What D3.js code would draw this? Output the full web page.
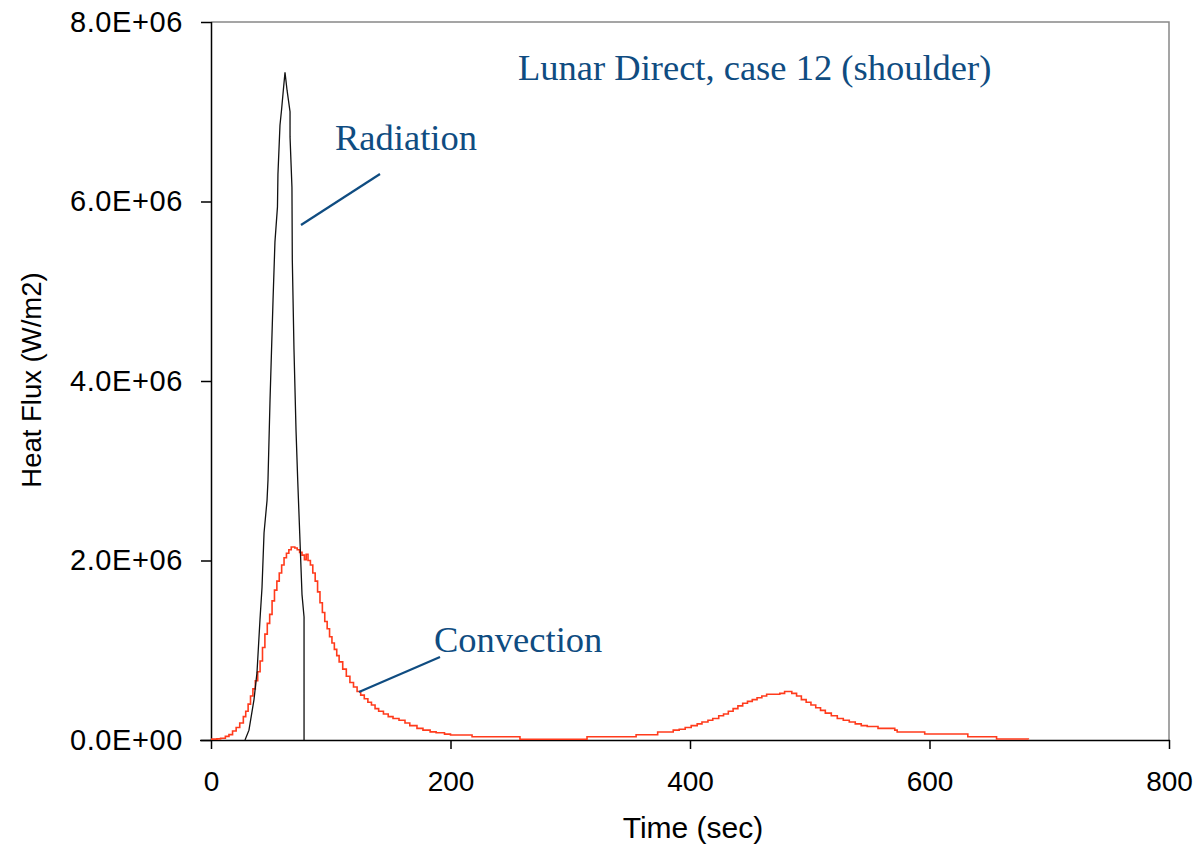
<!DOCTYPE html>
<html>
<head>
<meta charset="utf-8">
<script src="https://cdnjs.cloudflare.com/ajax/libs/d3/7.8.5/d3.min.js"></script>
<style>
  html, body { margin: 0; padding: 0; background: #fff; }
  svg { display: block; }
  .axis text { font-family: "Liberation Sans", Arial, sans-serif; fill: #000; }
</style>
</head>
<body>
<svg id="chart" width="1199" height="846"></svg>
<script>
// Time axis ticks (sec) and heat-flux ticks (W/m2)
const xTicks = [0, 200, 400, 600, 800];
const yTicks = [0, 2e6, 4e6, 6e6, 8e6];

// Radiative heat flux history
const radTime = [28.4, 31.7, 35.9, 38.4, 40.9, 42.6, 44.3, 46.8, 47.6, 49.3, 51.8, 53.4, 55.5, 55.9,
  57.6, 58.9, 60.4, 61.8, 63.5, 66.0, 66.0, 67.6, 67.9, 69.3, 71.0, 72.4, 76.0, 77.7, 77.7];
const radFlux = [0, 0.11e6, 0.45e6, 0.75e6, 1.34e6, 1.70e6, 2.31e6, 2.67e6, 2.90e6, 3.79e6, 4.90e6, 5.55e6, 5.94e6, 6.30e6,
  6.85e6, 7.02e6, 7.24e6, 7.44e6, 7.24e6, 7.00e6, 6.72e6, 6.16e6, 5.35e6, 4.35e6, 3.45e6, 2.90e6, 1.62e6, 1.37e6, 0];

// Convective heat flux history (piecewise-constant samples)
const convTime = [0, 5, 8, 12, 15, 18, 21, 24, 27, 29, 31, 33, 35, 37, 39, 41, 43, 45, 47, 49, 51, 53, 55, 57, 59, 61, 63, 65,
  67, 70, 72, 74, 76, 78, 79.5, 81, 83, 85, 87, 89, 91, 93, 95, 97, 99, 101, 103, 105, 107, 110, 113, 116, 119, 122, 125,
  128, 131, 134, 137, 140, 144, 148, 152, 157, 162, 166, 172, 177, 183, 188, 195, 200, 218, 258, 314, 355, 373, 386, 391,
  396, 401, 406, 410, 415, 419, 424, 428, 432, 436, 440, 444, 448, 452, 456, 460, 464, 475, 479, 485, 489, 493, 497, 501,
  505, 509, 513, 518, 523, 528, 533, 538, 543, 548, 557, 571, 573, 596, 632, 656, 682.5];
const convFlux = [0.01e6, 0.012e6, 0.02e6, 0.04e6, 0.06e6, 0.10e6, 0.14e6, 0.19e6, 0.26e6, 0.32e6, 0.40e6, 0.49e6, 0.57e6,
  0.66e6, 0.76e6, 0.88e6, 1.03e6, 1.18e6, 1.30e6, 1.40e6, 1.55e6, 1.67e6, 1.77e6, 1.86e6, 1.95e6, 2.03e6, 2.08e6, 2.12e6,
  2.15e6, 2.14e6, 2.12e6, 2.09e6, 2.06e6, 2.01e6, 2.07e6, 2.00e6, 1.95e6, 1.86e6, 1.77e6, 1.65e6, 1.53e6, 1.42e6, 1.32e6,
  1.24e6, 1.15e6, 1.08e6, 1.01e6, 0.94e6, 0.87e6, 0.79e6, 0.71e6, 0.64e6, 0.59e6, 0.54e6, 0.50e6, 0.46e6, 0.42e6, 0.39e6,
  0.35e6, 0.32e6, 0.29e6, 0.26e6, 0.24e6, 0.22e6, 0.19e6, 0.16e6, 0.13e6, 0.11e6, 0.09e6, 0.08e6, 0.065e6, 0.056e6, 0.037e6,
  0.008e6, 0.037e6, 0.059e6, 0.089e6, 0.11e6, 0.12e6, 0.14e6, 0.16e6, 0.18e6, 0.20e6, 0.22e6, 0.24e6, 0.27e6, 0.29e6, 0.32e6,
  0.35e6, 0.38e6, 0.41e6, 0.43e6, 0.45e6, 0.47e6, 0.49e6, 0.51e6, 0.52e6, 0.54e6, 0.52e6, 0.49e6, 0.45e6, 0.42e6, 0.39e6,
  0.36e6, 0.33e6, 0.30e6, 0.27e6, 0.24e6, 0.22e6, 0.20e6, 0.18e6, 0.16e6, 0.15e6, 0.13e6, 0.11e6, 0.089e6, 0.067e6, 0.037e6,
  0.011e6, 0.006e6];

const title = "Lunar Direct, case 12 (shoulder)";
const xLabel = "Time (sec)";
const yLabel = "Heat Flux (W/m2)";

const svg = d3.select("#chart");
const plotLeft = 211, plotRight = 1169, plotTop = 22, plotBottom = 740;

const x = d3.scaleLinear().domain([0, 800]).range([plotLeft, plotRight]);
const y = d3.scaleLinear().domain([0, 8e6]).range([plotBottom, plotTop]);

// Plot frame: grey top and right edges
svg.append("path")
  .attr("d", `M${plotLeft},${plotTop}H${plotRight}V${plotBottom}`)
  .attr("fill", "none").attr("stroke", "#888").attr("stroke-width", 1.5);

const sci = d => {
  const [m, e] = d.toExponential(1).split("e");
  const sign = e[0] === "-" ? "-" : "+";
  const ex = e.replace(/[+-]/, "").padStart(2, "0");
  return `${m}E${sign}${ex}`;
};

const yAxis = svg.append("g").attr("class", "axis")
  .attr("transform", `translate(${plotLeft},0)`)
  .call(d3.axisLeft(y).tickValues(yTicks).tickFormat(sci).tickSize(10).tickPadding(18));
yAxis.select(".domain").attr("stroke", "#000").attr("stroke-width", 1.5).attr("d", `M0.5,${plotTop}V${plotBottom}`);
yAxis.selectAll(".tick line").attr("stroke", "#000").attr("stroke-width", 1.5);
yAxis.selectAll("text").style("font-size", "29px").style("letter-spacing", "0.6px");

const xAxis = svg.append("g").attr("class", "axis")
  .attr("transform", `translate(0,${plotBottom})`)
  .call(d3.axisBottom(x).tickValues(xTicks).tickFormat(d3.format("d")).tickSize(9).tickPadding(22));
xAxis.select(".domain").attr("stroke", "#000").attr("stroke-width", 1.5).attr("d", `M${plotLeft - 11},0.5H${plotRight + 1}`);
xAxis.selectAll(".tick line").attr("stroke", "#000").attr("stroke-width", 1.5);
xAxis.selectAll("text").style("font-size", "28px");

// Axis titles
svg.append("text")
  .attr("x", 693).attr("y", 838)
  .attr("text-anchor", "middle")
  .style("font-family", "Liberation Sans, Arial, sans-serif").style("font-size", "30px")
  .text(xLabel);
svg.append("text")
  .attr("transform", "translate(41,380) rotate(-90)")
  .attr("text-anchor", "middle")
  .style("font-family", "Liberation Sans, Arial, sans-serif").style("font-size", "27.5px")
  .text(yLabel);

// Series
const convLine = d3.line().curve(d3.curveStepAfter)
  .x((d, i) => x(convTime[i])).y(d => y(d));
svg.append("path")
  .attr("d", convLine(convFlux))
  .attr("fill", "none").attr("stroke", "#ff3b1c").attr("stroke-width", 1.6);

const radLine = d3.line()
  .x((d, i) => x(radTime[i])).y(d => y(d));
svg.append("path")
  .attr("d", radLine(radFlux))
  .attr("fill", "none").attr("stroke", "#111").attr("stroke-width", 1.3);

// Annotations
const blue = "#0f4c81";
const serif = "Liberation Serif, Times New Roman, serif";
svg.append("text").attr("x", 518).attr("y", 80)
  .style("font-family", serif).style("font-size", "36.5px").attr("fill", blue).text(title);
svg.append("text").attr("x", 335).attr("y", 150)
  .style("font-family", serif).style("font-size", "36.5px").attr("fill", blue).text("Radiation");
svg.append("text").attr("x", 434).attr("y", 652)
  .style("font-family", serif).style("font-size", "36.5px").attr("fill", blue).text("Convection");

svg.append("line").attr("x1", 301).attr("y1", 225).attr("x2", 380).attr("y2", 174)
  .attr("stroke", blue).attr("stroke-width", 2.2);
svg.append("line").attr("x1", 359).attr("y1", 692).attr("x2", 440).attr("y2", 657)
  .attr("stroke", blue).attr("stroke-width", 2.2);
</script>
</body>
</html>
